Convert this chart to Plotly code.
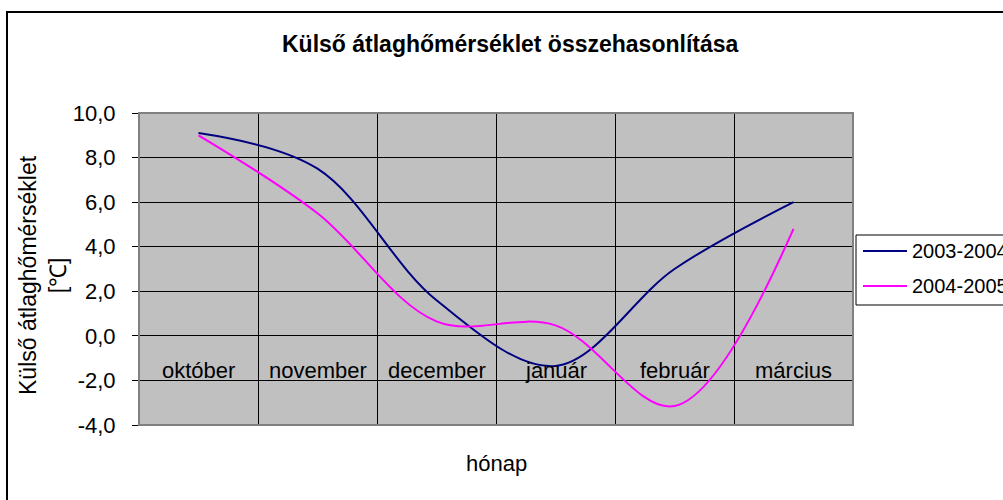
import plotly.graph_objects as go

# ---- data ----
months = ["október", "november", "december", "január", "február", "március"]
series_names = ["2003-2004", "2004-2005"]
temp_2003_2004 = [9.1, 7.5, 1.6, -1.35, 3.0, 6.0]
temp_2004_2005 = [9.0, 5.5, 0.65, 0.47, -3.15, 4.8]
y_tick_vals = [-4, -2, 0, 2, 4, 6, 8, 10]
y_tick_text = ["-4,0", "-2,0", "0,0", "2,0", "4,0", "6,0", "8,0", "10,0"]

colors = ["#000080", "#FF00FF"]

W, H = 1003, 500
L, R, T, B = 139, 853, 113, 425  # plot area in pixels


def px2x(px):
    return (px - L) / (R - L)


def py2y(py):
    return (B - py) / (B - T)


x_idx = list(range(len(months)))

fig = go.Figure()
for name, vals, c in zip(series_names, [temp_2003_2004, temp_2004_2005], colors):
    fig.add_trace(go.Scatter(
        x=x_idx, y=vals, name=name, mode="lines",
        line=dict(color=c, width=2, shape="spline", smoothing=1.0),
        showlegend=False, hoverinfo="skip",
    ))

font_main = "Liberation Sans, Arial, sans-serif"

annotations = []
# category labels inside plot, just below the zero line
for i, m in enumerate(months):
    annotations.append(dict(
        x=i, y=-1.55, xref="x", yref="y", text=m, showarrow=False,
        font=dict(family=font_main, size=22, color="#000000"),
        xanchor="center", yanchor="middle",
    ))
# title
annotations.append(dict(
    x=px2x(510), y=py2y(44), xref="paper", yref="paper",
    text="<b>Külső átlaghőmérséklet összehasonlítása</b>", showarrow=False,
    font=dict(family=font_main, size=23, color="#000000"),
    xanchor="center", yanchor="middle",
))
# x axis title
annotations.append(dict(
    x=px2x(496), y=py2y(463), xref="paper", yref="paper",
    text="hónap", showarrow=False,
    font=dict(family=font_main, size=22, color="#000000"),
    xanchor="center", yanchor="middle",
))
# y axis title
annotations.append(dict(
    x=px2x(43), y=py2y(275), xref="paper", yref="paper",
    text="Külső átlaghőmérséklet<br>[℃]", showarrow=False, textangle=-90,
    font=dict(family=font_main, size=23, color="#000000"),
    xanchor="center", yanchor="middle",
))

shapes = []
# outer chart border
shapes.append(dict(type="rect", xref="paper", yref="paper",
                   x0=px2x(7), x1=px2x(1012), y0=py2y(512), y1=py2y(12),
                   line=dict(color="#000000", width=2), layer="below"))
# plot area border
shapes.append(dict(type="rect", xref="paper", yref="paper",
                   x0=0, x1=1, y0=0, y1=1,
                   line=dict(color="#808080", width=2), layer="above"))
# legend box
shapes.append(dict(type="rect", xref="paper", yref="paper",
                   x0=px2x(856), x1=px2x(1015), y0=py2y(305), y1=py2y(235),
                   line=dict(color="#000000", width=1), fillcolor="#FFFFFF", layer="above"))
leg_y = [251, 286]
for name, c, ly in zip(series_names, colors, leg_y):
    shapes.append(dict(type="line", xref="paper", yref="paper",
                       x0=px2x(863), x1=px2x(907), y0=py2y(ly), y1=py2y(ly),
                       line=dict(color=c, width=2), layer="above"))
    annotations.append(dict(
        x=px2x(910), y=py2y(ly), xref="paper", yref="paper", text=name,
        showarrow=False, font=dict(family=font_main, size=20, color="#000000"),
        xanchor="left", yanchor="middle",
    ))

fig.update_layout(
    width=W, height=H,
    margin=dict(l=L, r=W - R, t=T, b=H - B, pad=0, autoexpand=False),
    paper_bgcolor="#FFFFFF",
    plot_bgcolor="#C0C0C0",
    showlegend=False,
    hovermode=False,
    annotations=annotations,
    shapes=shapes,
    font=dict(family=font_main, size=22, color="#000000"),
)
fig.update_xaxes(
    range=[-0.5, len(months) - 0.5],
    tickvals=[i + 0.5 for i in range(len(months) - 1)],
    showticklabels=False, ticks="",
    showgrid=True, gridcolor="#000000", gridwidth=1,
    zeroline=False, showline=False,
)
fig.update_yaxes(
    range=[-4, 10],
    tickvals=y_tick_vals, ticktext=y_tick_text,
    ticks="outside", ticklen=6, tickcolor="#000000", tickwidth=1,
    ticklabelstandoff=12,
    tickfont=dict(family=font_main, size=22, color="#000000"),
    showgrid=True, gridcolor="#000000", gridwidth=1,
    zeroline=True, zerolinecolor="#000000", zerolinewidth=1,
    showline=False,
)

fig.write_html("out.html", config={"displayModeBar": False},
               post_script="document.body.style.margin='0px';")
